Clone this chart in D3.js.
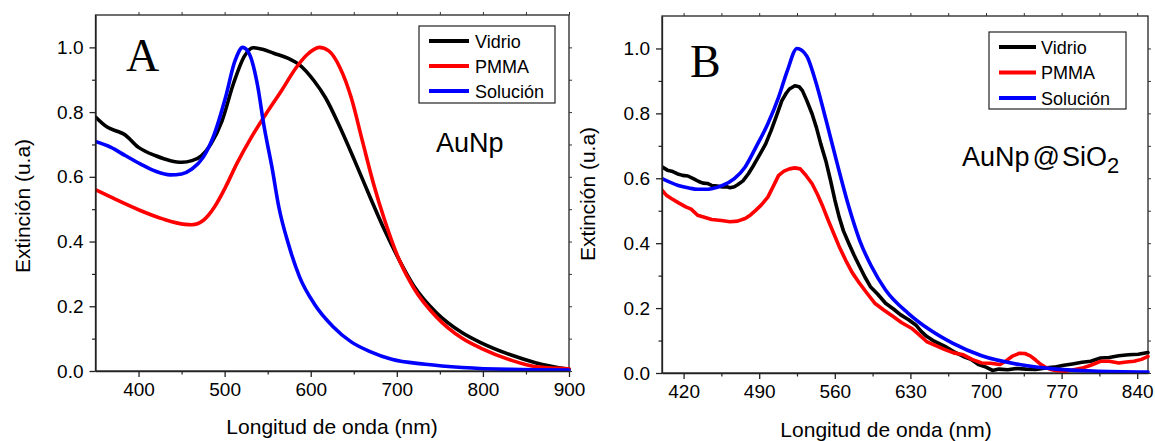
<!DOCTYPE html>
<html><head><meta charset="utf-8">
<script src="https://cdn.jsdelivr.net/npm/d3@7"></script>
<style>body{margin:0;background:#fff}svg{display:block}text{font-family:Arial,"Liberation Sans",sans-serif;fill:#000}</style>
</head><body>
<svg id="c" width="1155" height="441"></svg>
<script>
// ---- data ----
const legendLabels = ["Vidrio", "PMMA", "Solución"];
const seriesColors = ["#000000", "#ff0000", "#0000ff"];
const yTicks = [0, 0.2, 0.4, 0.6, 0.8, 1.0];
const xTicksA = [400, 500, 600, 700, 800, 900];
const xTicksB = [420, 490, 560, 630, 700, 770, 840];

const aVidrio = [[350,0.785],[364,0.753],[376,0.740],[383,0.732],[400,0.691],[420,0.665],[437,0.650],[450,0.645],[462,0.650],[473,0.665],[484,0.701],[497,0.773],[510,0.886],[523,0.973],[533,0.999],[544,0.994],[557,0.982],[574,0.966],[587,0.946],[604,0.896],[617,0.845],[634,0.753],[651,0.650],[669,0.537],[686,0.434],[703,0.342],[720,0.262],[746,0.180],[776,0.118],[798,0.087],[832,0.050],[862,0.025],[900,0.005]];
const aPMMA = [[350,0.560],[368,0.537],[402,0.496],[428,0.470],[454,0.453],[462,0.452],[475,0.465],[488,0.506],[501,0.568],[514,0.640],[531,0.722],[548,0.794],[566,0.866],[583,0.937],[596,0.978],[610,1.0],[621,0.989],[634,0.937],[647,0.845],[660,0.711],[673,0.578],[686,0.465],[703,0.342],[720,0.255],[746,0.167],[776,0.101],[798,0.070],[832,0.034],[862,0.013],[900,0.007]];
const aSolucion = [[350,0.709],[368,0.691],[385,0.665],[402,0.640],[420,0.617],[437,0.606],[450,0.609],[462,0.624],[475,0.660],[488,0.732],[501,0.845],[512,0.958],[521,1.0],[529,0.978],[538,0.886],[546,0.753],[555,0.629],[563,0.506],[574,0.393],[587,0.291],[604,0.208],[626,0.137],[647,0.090],[669,0.060],[694,0.036],[733,0.021],[776,0.011],[832,0.005],[900,0.003]];

const bVidrio = [[400,0.635],[405,0.625],[409,0.622],[414,0.614],[419,0.609],[424,0.607],[429,0.599],[434,0.590],[438,0.585],[442,0.584],[446,0.578],[451,0.576],[456,0.573],[460,0.574],[463,0.571],[467,0.574],[470,0.580],[475,0.592],[480,0.614],[485,0.641],[491,0.676],[496,0.706],[501,0.747],[506,0.792],[511,0.839],[515,0.862],[518,0.875],[523,0.885],[527,0.882],[530,0.870],[534,0.840],[539,0.798],[543,0.756],[547,0.706],[552,0.650],[556,0.594],[560,0.534],[564,0.481],[568,0.438],[573,0.399],[578,0.362],[583,0.328],[588,0.295],[593,0.266],[600,0.242],[607,0.215],[614,0.198],[621,0.179],[628,0.165],[635,0.148],[640,0.128],[645,0.113],[652,0.098],[662,0.082],[670,0.066],[679,0.051],[686,0.042],[693,0.026],[700,0.018],[706,0.008],[712,0.012],[720,0.010],[728,0.014],[737,0.012],[746,0.011],[754,0.015],[763,0.018],[772,0.024],[780,0.028],[789,0.033],[797,0.036],[806,0.046],[814,0.048],[823,0.053],[832,0.056],[841,0.058],[850,0.063]];
const bPMMA = [[400,0.563],[404,0.548],[409,0.537],[415,0.525],[422,0.512],[427,0.505],[433,0.486],[440,0.479],[446,0.473],[455,0.470],[463,0.466],[470,0.468],[477,0.476],[482,0.487],[487,0.502],[492,0.518],[498,0.542],[503,0.575],[508,0.609],[513,0.622],[518,0.629],[523,0.632],[528,0.629],[533,0.610],[539,0.583],[544,0.550],[549,0.512],[554,0.470],[559,0.430],[564,0.390],[570,0.348],[576,0.310],[583,0.276],[590,0.245],[597,0.215],[605,0.195],[614,0.174],[622,0.155],[631,0.138],[638,0.118],[645,0.097],[653,0.085],[662,0.072],[670,0.062],[679,0.056],[687,0.042],[696,0.031],[704,0.030],[713,0.026],[718,0.036],[724,0.051],[731,0.061],[736,0.060],[741,0.053],[746,0.040],[751,0.026],[756,0.016],[761,0.010],[766,0.007],[772,0.005],[780,0.009],[789,0.015],[797,0.024],[806,0.036],[814,0.036],[823,0.031],[830,0.034],[837,0.036],[844,0.042],[850,0.051]];
const bSolucion = [[400,0.599],[415,0.578],[425,0.570],[433,0.566],[440,0.566],[446,0.568],[456,0.578],[467,0.599],[477,0.635],[487,0.696],[498,0.768],[508,0.850],[516,0.931],[525,1.0],[534,0.977],[542,0.901],[552,0.778],[563,0.635],[573,0.512],[583,0.409],[594,0.328],[607,0.256],[628,0.184],[648,0.133],[669,0.092],[696,0.053],[731,0.026],[765,0.012],[799,0.006],[850,0.003]];

// ---- drawing ----
const svg = d3.select("#c");

function panel(cfg) {
  const g = svg.append("g");
  const x = d3.scaleLinear().domain(cfg.xDomain).range([cfg.left, cfg.right]);
  const y = d3.scaleLinear().domain([0, 1.1]).range([cfg.bottom, cfg.top]);

  const xMinor = cfg.xMinor, yMinor = [0.1, 0.3, 0.5, 0.7, 0.9];
  g.append("rect").attr("x", cfg.left).attr("y", cfg.top)
    .attr("width", cfg.right - cfg.left).attr("height", cfg.bottom - cfg.top)
    .attr("fill", "none").attr("stroke", "#222").attr("stroke-width", 1.3);

  const clipId = "clip" + cfg.name;
  svg.append("clipPath").attr("id", clipId).append("rect")
    .attr("x", cfg.left).attr("y", cfg.top).attr("width", cfg.right - cfg.left + 2).attr("height", cfg.bottom - cfg.top + 2);
  cfg.series.forEach((s, i) => {
    const line = d3.line().x(d => x(d[0])).y(d => y(d[1])).curve(cfg.curves[i]);
    g.append("path").datum(s).attr("d", line).attr("fill", "none")
      .attr("stroke", seriesColors[i]).attr("stroke-width", 3.6)
      .attr("stroke-linejoin", "round").attr("stroke-linecap", "round")
      .attr("clip-path", "url(#" + clipId + ")");
  });

  const bx = g.append("g").attr("transform", `translate(0,${cfg.bottom})`)
    .call(d3.axisBottom(x).tickValues(cfg.xTicks).tickSize(6).tickSizeOuter(0).tickPadding(6).tickFormat(d3.format("d")));
  bx.select(".domain").attr("stroke", "#222").attr("stroke-width", 1.3);
  bx.selectAll(".tick line").attr("stroke", "#222").attr("stroke-width", 1.3);
  bx.selectAll("text").style("font-size", "19px");
  g.append("g").attr("transform", `translate(0,${cfg.bottom})`)
    .call(d3.axisBottom(x).tickValues(xMinor).tickSize(3.5).tickFormat(""))
    .call(a => { a.select(".domain").remove(); a.selectAll("line").attr("stroke", "#222").attr("stroke-width", 1.2); });
  g.append("g").attr("transform", `translate(0,${cfg.top})`)
    .call(d3.axisTop(x).tickValues(cfg.xTicks.concat(xMinor)).tickSize(3).tickFormat(""))
    .call(a => { a.select(".domain").remove(); a.selectAll("line").attr("stroke", "#333").attr("stroke-width", 1); });

  const ly = g.append("g").attr("transform", `translate(${cfg.left},0)`)
    .call(d3.axisLeft(y).tickValues(yTicks).tickSize(6).tickSizeOuter(0).tickPadding(6).tickFormat(d3.format(".1f")));
  ly.select(".domain").attr("stroke", "#222").attr("stroke-width", 1.3);
  ly.selectAll(".tick line").attr("stroke", "#222").attr("stroke-width", 1.3);
  ly.selectAll("text").style("font-size", "19px");
  g.append("g").attr("transform", `translate(${cfg.left},0)`)
    .call(d3.axisLeft(y).tickValues(yMinor).tickSize(3.5).tickFormat(""))
    .call(a => { a.select(".domain").remove(); a.selectAll("line").attr("stroke", "#222").attr("stroke-width", 1.2); });
  g.append("g").attr("transform", `translate(${cfg.right},0)`)
    .call(d3.axisRight(y).tickValues(yTicks.concat(yMinor)).tickSize(3).tickFormat(""))
    .call(a => { a.select(".domain").remove(); a.selectAll("line").attr("stroke", "#333").attr("stroke-width", 1); });

  g.append("text").attr("x", cfg.xTitleX).attr("y", cfg.xTitleY).attr("text-anchor", "middle")
    .style("font-size", "21px").text("Longitud de onda (nm)");
  g.append("text").attr("transform", `translate(${cfg.yTitleX},${cfg.yTitleY}) rotate(-90)`)
    .attr("text-anchor", "middle").style("font-size", "21px").text("Extinción (u.a)");

  const lg = g.append("g");
  lg.append("rect").attr("x", cfg.leg.x).attr("y", cfg.leg.y).attr("width", cfg.leg.w).attr("height", cfg.leg.h)
    .attr("fill", "#fff").attr("stroke", "#222").attr("stroke-width", 1.2);
  legendLabels.forEach((lab, i) => {
    const yy = cfg.leg.y + cfg.leg.row0 + i * cfg.leg.dy;
    lg.append("line").attr("x1", cfg.leg.x + cfg.leg.l1).attr("x2", cfg.leg.x + cfg.leg.l2)
      .attr("y1", yy).attr("y2", yy).attr("stroke", seriesColors[i]).attr("stroke-width", 4);
    lg.append("text").attr("x", cfg.leg.x + cfg.leg.tx).attr("y", yy + 6.5).style("font-size", "18px").text(lab);
  });

  g.append("text").attr("x", cfg.letterX).attr("y", cfg.letterY)
    .style("font-family", "'Liberation Serif','Times New Roman',serif").style("font-size", "46px").text(cfg.letter);
  return g;
}

const smooth = d3.curveMonotoneX, raw = d3.curveLinear;

const gA = panel({
  name: "A", letter: "A", letterX: 126, letterY: 71,
  xDomain: [350, 900], left: 95.5, right: 569, top: 15, bottom: 371,
  xTicks: xTicksA, xMinor: [450, 550, 650, 750, 850],
  series: [aVidrio, aPMMA, aSolucion], curves: [smooth, smooth, smooth],
  xTitleX: 332, xTitleY: 434, yTitleX: 30, yTitleY: 206,
  leg: { x: 419, y: 26, w: 136, h: 77, row0: 15, dy: 25, l1: 10, l2: 50, tx: 56 }
});
gA.append("text").attr("x", 436).attr("y", 152).style("font-size", "27px").text("AuNp");

const gB = panel({
  name: "B", letter: "B", letterX: 690, letterY: 77,
  xDomain: [400, 850], left: 662, right: 1148, top: 16, bottom: 373,
  xTicks: xTicksB, xMinor: [455, 525, 595, 665, 735, 805],
  series: [bVidrio, bPMMA, bSolucion], curves: [raw, raw, smooth],
  xTitleX: 886, xTitleY: 437, yTitleX: 595, yTitleY: 194,
  leg: { x: 989, y: 32, w: 137, h: 77, row0: 15, dy: 25.5, l1: 10, l2: 47, tx: 52 }
});
const tB = gB.append("text").attr("x", 962).attr("y", 166).style("font-size", "27px");
tB.append("tspan").text("AuNp");
tB.append("tspan").attr("dx", 3).text("@");
tB.append("tspan").attr("dx", 2).text("SiO");
tB.append("tspan").attr("dy", 7).style("font-size", "22px").text("2");
</script>
</body></html>
